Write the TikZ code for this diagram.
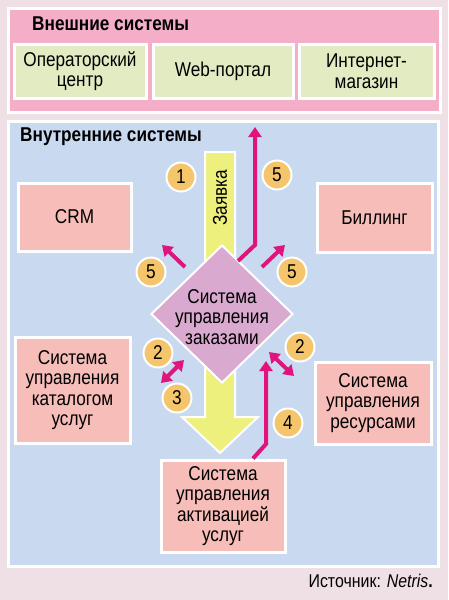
\documentclass[tikz,border=0pt]{standalone}
\usepackage{fontspec}
\setmainfont{Liberation Sans}[FakeStretch=0.86]
\usetikzlibrary{shapes.geometric,arrows.meta}
\definecolor{paper}{HTML}{EFE0E6}
\definecolor{extpanel}{HTML}{F5AEC8}
\definecolor{intpanel}{HTML}{C9D9EF}
\definecolor{extfill}{HTML}{E3EBC3}
\definecolor{sysfill}{HTML}{F7BDB8}
\definecolor{reqfill}{HTML}{EEF07E}
\definecolor{ordfill}{HTML}{D9A9CF}
\definecolor{numfill}{HTML}{F5C56B}
\definecolor{flowcol}{HTML}{E0147C}
\begin{document}
\begin{tikzpicture}
  [x=1pt,y=-1pt,
   font=\fontsize{20}{20.5}\selectfont,
   panel/.style={draw=white,line width=3pt},
   sysbox/.style={draw=white,line width=3pt,fill=sysfill,align=center,inner sep=0pt},
   extbox/.style={sysbox,fill=extfill},
   title/.style={font=\fontsize{20}{21}\selectfont\bfseries,anchor=west,inner sep=0pt},
   num/.style={circle,draw=white,line width=2pt,fill=numfill,minimum size=29pt,inner sep=0pt},
   flow/.style={draw=flowcol,line width=4pt,-{Triangle[length=10pt,width=13pt]}},
   flowboth/.style={flow,{Triangle[length=10pt,width=13pt]}-{Triangle[length=10pt,width=13pt]}}]
  \useasboundingbox (0,0) rectangle (448,600);
  \fill[paper] (0,0) rectangle (448,600);
  % panels
  \filldraw[panel,fill=extpanel] (8,8) rectangle (440,112);
  \filldraw[panel,fill=intpanel] (8,121) rectangle (438,566);
  \node[title] (exttitle) at (32,24) {Внешние системы};
  \node[title] (inttitle) at (20,137) {Внутренние системы};
  % external systems
  \node[extbox,minimum width=132,minimum height=54] (oper) at (80,71) {Операторский\\центр};
  \node[extbox,minimum width=140,minimum height=54] (web) at (223,71) {Web-портал};
  \node[extbox,minimum width=135,minimum height=54] (shop) at (366.5,71) {Интернет-\\магазин};
  % request arrow
  \filldraw[draw=white,line width=2pt,fill=reqfill]
    (205,152) -- (235,152) -- (235,417) -- (258,417) -- (220,453)
    -- (182,417) -- (205,417) -- cycle;
  \node[rotate=90,inner sep=0pt] (req) at (220,198) {Заявка};
  % internal systems
  \node[diamond,draw=white,line width=2pt,fill=ordfill,minimum width=142,minimum height=138,
        inner sep=0pt,align=center] (ord) at (222,314) {};
  \node[align=center,inner sep=0pt] (ordtext) at (222,317) {Система\\управления\\заказами};
  \node[sysbox,minimum width=113,minimum height=68] (crm) at (74.5,217) {CRM};
  \node[sysbox,minimum width=115,minimum height=69] (bill) at (374.5,217.5) {Биллинг};
  \node[sysbox,minimum width=115,minimum height=106] (cat) at (72.5,390) {Система\\управления\\каталогом\\услуг};
  \node[sysbox,minimum width=116,minimum height=82] (res) at (373,403) {Система\\управления\\ресурсами};
  \node[sysbox,minimum width=124,minimum height=92] (act) at (223,506) {Система\\управления\\активацией\\услуг};
  % flows
  \coordinate (up0) at (238,261);
  \coordinate (up1) at (255,245);
  \coordinate (up2) at (255,127);
  \coordinate (crm0) at (185,267);
  \coordinate (crm1) at (162,245);
  \coordinate (bill0) at (262,267);
  \coordinate (bill1) at (285,245);
  \coordinate (cat0) at (184,360);
  \coordinate (cat1) at (161,383);
  \coordinate (res0) at (269,352);
  \coordinate (res1) at (294,376);
  \coordinate (act1) at (266,444);
  \coordinate (act2) at (266,361);
  \draw[flow] (up0) -- (up1) -- (up2);
  \draw[flow] (crm0) -- (crm1);
  \draw[flow] (bill0) -- (bill1);
  \draw[flowboth] (cat0) -- (cat1);
  \draw[flowboth] (res0) -- (res1);
  \draw[flow] ([xshift=30pt]act.north) -- (act1) -- (act2);
  % steps
  \node[num] (n1) at (181,177) {1};
  \node[num] (n5a) at (277,175) {5};
  \node[num] (n5b) at (151,272) {5};
  \node[num] (n5c) at (292,272) {5};
  \node[num] (n2a) at (158,353) {2};
  \node[num] (n3) at (177,398) {3};
  \node[num] (n2b) at (300,347) {2};
  \node[num] (n4) at (288,423) {4};
  % source
  \node[anchor=east,inner sep=0pt,font=\fontsize{18.5}{20}\selectfont] (src) at (433,581) {Источник: \textit{Netris}\textbf{.}};
\end{tikzpicture}
\end{document}
